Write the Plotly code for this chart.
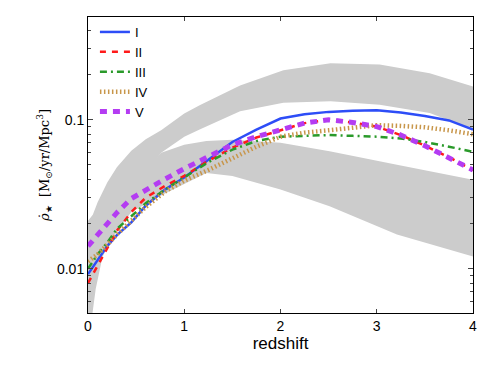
import plotly.graph_objects as go

# redshift grid for each curve
z = [0, 0.1, 0.2, 0.3, 0.45, 0.6, 0.8, 1.0, 1.25, 1.5, 1.75, 2.0, 2.25, 2.5, 2.75, 3.0, 3.25, 3.5, 3.75, 4.0]

sfr_I = [0.0092, 0.0115, 0.0142, 0.0168, 0.0205, 0.0265, 0.034, 0.041, 0.054, 0.071, 0.086, 0.102, 0.109, 0.113, 0.115, 0.116, 0.112, 0.106, 0.099, 0.086]
sfr_II = [0.0080, 0.0105, 0.0135, 0.018, 0.024, 0.030, 0.036, 0.042, 0.053, 0.065, 0.076, 0.085, 0.095, 0.100, 0.096, 0.090, 0.079, 0.067, 0.056, 0.046]
sfr_III = [0.0100, 0.0125, 0.0150, 0.0185, 0.0225, 0.0275, 0.034, 0.041, 0.052, 0.063, 0.072, 0.077, 0.078, 0.079, 0.078, 0.077, 0.075, 0.071, 0.066, 0.061]
sfr_IV = [0.0112, 0.0125, 0.0145, 0.017, 0.021, 0.026, 0.033, 0.039, 0.046, 0.055, 0.066, 0.077, 0.082, 0.085, 0.089, 0.092, 0.091, 0.089, 0.085, 0.080]
sfr_V = [0.0142, 0.017, 0.0202, 0.0238, 0.0296, 0.034, 0.040, 0.047, 0.057, 0.068, 0.077, 0.085, 0.095, 0.100, 0.096, 0.090, 0.079, 0.067, 0.056, 0.046]

# observational bands (upper and lower)
z_up = [0, 0.05, 0.1, 0.2, 0.3, 0.45, 0.6, 0.76, 1.0, 1.16, 1.58, 2.03, 2.52, 3.03, 3.55, 4.0]
up_top = [0.021, 0.023, 0.028, 0.038, 0.048, 0.062, 0.074, 0.085, 0.11, 0.125, 0.17, 0.215, 0.24, 0.235, 0.205, 0.167]
up_bot = [0.016, 0.018, 0.0205, 0.024, 0.027, 0.034, 0.044, 0.060, 0.077, 0.086, 0.114, 0.130, 0.133, 0.126, 0.111, 0.086]

z_lo = [0, 0.046, 0.08, 0.115, 0.15, 0.25, 0.45, 0.76, 1.0, 1.23, 1.5, 2.0, 2.51, 3.21, 4.0]
lo_top = [0.017, 0.019, 0.021, 0.023, 0.025, 0.028, 0.036, 0.060, 0.068, 0.072, 0.0735, 0.070, 0.0614, 0.050, 0.0396]
lo_bot = [0.0035, 0.005, 0.0073, 0.0094, 0.012, 0.016, 0.024, 0.031, 0.037, 0.044, 0.042, 0.034, 0.0263, 0.017, 0.0121]

names = ['I', 'II', 'III', 'IV', 'V']
series = [sfr_I, sfr_II, sfr_III, sfr_IV, sfr_V]
colors = ['#2D4DF7', '#FF1A1A', '#2A9A2A', '#C8964A', '#B43CF2']
widths = [2.5, 2.5, 2.5, 4.5, 5]
dashes = ['solid', '6px,6px', '7px,4px,2px,4px', '1.5px,2.5px', '7px,6px']

fig = go.Figure()

gray = '#CCCCCC'
for zz, top, bot in [(z_up, up_top, up_bot), (z_lo, lo_top, lo_bot)]:
    fig.add_trace(go.Scatter(
        x=zz + zz[::-1], y=top + bot[::-1],
        fill='toself', fillcolor=gray, line=dict(width=0),
        mode='lines', showlegend=False, hoverinfo='skip'
    ))

for name, y, c, w, d in zip(names, series, colors, widths, dashes):
    fig.add_trace(go.Scatter(
        x=z, y=y, name=name, mode='lines',
        line=dict(color=c, width=w, dash=d)
    ))

minor_vals = [0.005, 0.006, 0.007, 0.008, 0.009,
              0.02, 0.03, 0.04, 0.05, 0.06, 0.07, 0.08, 0.09,
              0.2, 0.3, 0.4, 0.5]

# the page body adds an 8px offset, so the figure is 8px smaller
fig.update_layout(
    width=483, height=361,
    margin=dict(l=80, r=18, t=9, b=56, autoexpand=False),
    plot_bgcolor='white', paper_bgcolor='white',
    font=dict(family='Liberation Sans, Arial, sans-serif', size=14, color='black'),
    legend=dict(x=0.018, y=1.0, xanchor='left', yanchor='top',
                bgcolor='rgba(0,0,0,0)', font=dict(size=13, color='black'),
                tracegroupgap=0, itemwidth=30),
    xaxis=dict(
        range=[0, 4], tickvals=[0, 1, 2, 3, 4],
        ticks='inside', ticklen=4, showline=True, linecolor='black', linewidth=1,
        mirror='ticks', showgrid=False, zeroline=False,
        title=dict(text='redshift', standoff=2)
    ),
    yaxis=dict(
        type='log', range=[-2.297, -0.31],
        tickvals=[0.01, 0.1], ticktext=['0.01', '0.1'],
        ticks='inside', ticklen=5, showline=True, linecolor='black', linewidth=1,
        mirror='ticks', showgrid=False, zeroline=False,
        minor=dict(tickvals=minor_vals, ticks='inside', ticklen=3, showgrid=False),
        title=dict(
            text='<i>ρ̇</i><sub>★</sub>  [M<sub>⊙</sub>/yr/Mpc<sup>3</sup>]',
            font=dict(family='DejaVu Serif, Liberation Serif, serif', size=13),
            standoff=4
        )
    )
)

fig.write_html("out.html")
